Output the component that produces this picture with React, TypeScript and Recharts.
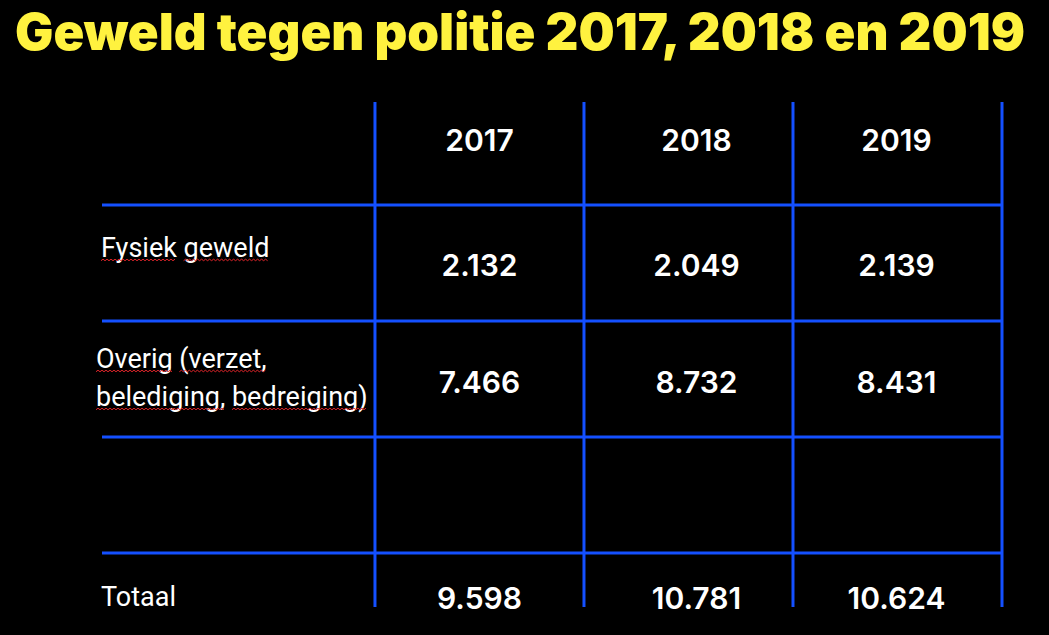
import { ScatterChart, Scatter, XAxis, YAxis, ReferenceLine } from 'recharts'

// table contents
const YEARS = ['2017', '2018', '2019']
const FYSIEK = [2132, 2049, 2139]
const OVERIG = [7466, 8732, 8431]
const TOTAAL = [9598, 10781, 10624]
const ROW_LABELS = [['Fysiek geweld'], ['Overig (verzet,', 'belediging, bedreiging)'], ['Totaal']]
const SPELL_MARKED = [true, true, false]

// layout (in axis units: one year column = 1 on x, one body row = 1 on y)
const W = 1049
const H = 635
const GRID = '#1450ff'
const X_DOMAIN: [number, number] = [-1.306, 3]
const Y_DOMAIN: [number, number] = [0.112, 4.466]
const COL_LINES = [0, 1, 2, 3]
const ROW_LINES = [1, 2, 3, 4]
const HEADER_Y = 0.444
const VALUE_Y = [1.517, 2.526, 4.388]
const LABEL_Y = [1.362, 2.483, 4.37]
const LABEL_DX = [-1, -6, -1]
const COL_DX = [0, 8, -1]
const LABEL_FONT = 27

const fmt = (n: number) => String(n).replace(/\B(?=(\d{3})+(?!\d))/g, '.')

const headerData = YEARS.map((t, i) => ({ x: i + 0.5, y: HEADER_Y, text: t, col: i }))
const valueData = [FYSIEK, OVERIG, TOTAAL].flatMap((vals, r) =>
  vals.map((v, i) => ({ x: i + 0.5, y: VALUE_Y[r], text: fmt(v), col: i }))
)
const labelData = ROW_LABELS.map((lines, r) => ({ x: X_DOMAIN[0], y: LABEL_Y[r], lines, r }))

let measureCtx: CanvasRenderingContext2D | null = null
const textWidth = (s: string) => {
  if (!measureCtx) measureCtx = document.createElement('canvas').getContext('2d')
  if (!measureCtx) return s.length * LABEL_FONT * 0.5
  measureCtx.font = `${LABEL_FONT}px Roboto`
  return measureCtx.measureText(s).width
}

// spell-check style squiggle under a word
const squigglePath = (x0: number, x1: number, y: number) => {
  let d = `M${x0},${y}`
  let up = true
  for (let x = x0 + 2; x <= x1; x += 2) {
    d += ` L${x},${up ? y - 1.5 : y}`
    up = !up
  }
  return d
}

const CellText = (props: any) => {
  const { cx, cy, payload } = props
  return (
    <text
      x={cx + COL_DX[payload.col]}
      y={cy}
      dy="0.36em"
      textAnchor="middle"
      fill="#ffffff"
      fontFamily="Inter"
      fontWeight={600}
      fontSize={30}
    >
      {payload.text}
    </text>
  )
}

const RowLabel = (props: any) => {
  const { cx, cy, payload } = props
  const lines: string[] = payload.lines
  const x = cx + LABEL_DX[payload.r]
  return (
    <g>
      {lines.map((line, i) => {
        const mid = cy + (i - (lines.length - 1) / 2) * 38
        const base = mid + LABEL_FONT * 0.36
        const words = line.split(' ')
        let pos = x
        const marks = words.map((w, j) => {
          const start = pos + (j > 0 ? textWidth(' ') : 0)
          const end = start + textWidth(w)
          pos = end
          return { start, end }
        })
        return (
          <g key={i}>
            <text x={x} y={mid} dy="0.36em" fill="#ffffff" fontFamily="Roboto" fontSize={LABEL_FONT}>
              {line}
            </text>
            {SPELL_MARKED[payload.r] &&
              marks.map((m, j) => (
                <path
                  key={j}
                  d={squigglePath(m.start, m.end, base + 4)}
                  fill="none"
                  stroke="#e3262b"
                  strokeWidth={1}
                />
              ))}
          </g>
        )
      })}
    </g>
  )
}

export default function App() {
  return (
    <div style={{ position: 'absolute', left: 0, top: 0, width: W, height: H, background: '#000' }}>
      <svg width={W} height={80} style={{ position: 'absolute', left: 0, top: 0 }}>
        <text
          x={15}
          y={50}
          textLength={1010}
          lengthAdjust="spacingAndGlyphs"
          fill="#fff23f"
          fontFamily="Inter"
          fontWeight={900}
          fontSize={51}
        >
          Geweld tegen politie 2017, 2018 en 2019
        </text>
      </svg>
      <div style={{ position: 'absolute', left: 0, top: 0 }}>
        <ScatterChart width={W} height={H} margin={{ top: 102, right: 47, bottom: 28, left: 102 }}>
          <XAxis type="number" dataKey="x" domain={X_DOMAIN} hide />
          <YAxis type="number" dataKey="y" domain={Y_DOMAIN} reversed hide />
          {ROW_LINES.map((y) => (
            <ReferenceLine key={'h' + y} y={y} stroke={GRID} strokeWidth={3} />
          ))}
          {COL_LINES.map((x) => (
            <ReferenceLine key={'v' + x} x={x} stroke={GRID} strokeWidth={3} />
          ))}
          <Scatter data={headerData} shape={CellText} isAnimationActive={false} />
          <Scatter data={valueData} shape={CellText} isAnimationActive={false} />
          <Scatter data={labelData} shape={RowLabel} isAnimationActive={false} />
        </ScatterChart>
      </div>
    </div>
  )
}
